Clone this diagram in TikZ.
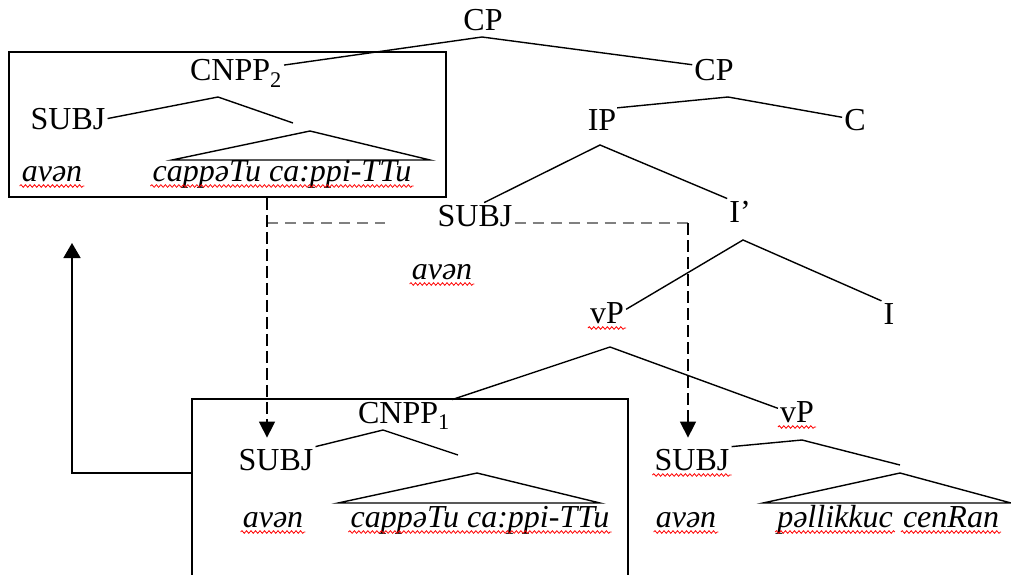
\documentclass[tikz,border=0pt]{standalone}
\usepackage{fontspec}
\setmainfont{Liberation Serif}
\usetikzlibrary{positioning,arrows.meta,calc,decorations.pathmorphing}

\newcommand{\treefont}{\fontsize{32}{38}\selectfont}

\tikzset{
  cat/.style={inner sep=2pt, anchor=base, font=\treefont},
  form/.style={cat, font=\treefont\itshape},
  branch/.style={line width=1.4pt},
  frame/.style={line width=1.6pt},
  spell/.style={red, line width=0.8pt, decorate,
    decoration={snake, amplitude=1.3pt, segment length=4.5pt}},
  move/.style={line width=1.4pt, dash pattern=on 12pt off 5pt,
    -{Triangle[length=16pt,width=16pt]}},
  link/.style={gray, line width=2.4pt, dash pattern=on 11pt off 7pt},
}

\begin{document}
\begin{tikzpicture}[x=1pt, y=-1pt]
\useasboundingbox (0,0) rectangle (1011,575);

% Main clause labels
\node[cat] (cpTop) at (483,31) {CP};
\node[cat] (cp) at (714,81) {CP};
\node[cat] (ip) at (602,131) {IP};
\node[cat] (c) at (855,130) {C};
\node[cat] (subj) at (475,226) {SUBJ};
\node[cat] (ibar) at (740,222) {I'};
\node[form] (av) at (442,279) {avən};
\node[cat] (vp) at (607,323) {vP};
\node[cat] (i) at (889,324) {I};
\node[cat] (vpLow) at (797,422) {vP};
\node[cat] (subjR) at (692,470) {SUBJ};
\node[form] (avR) at (686,527) {avən};
\node[form] (pal) at (835,527) {pəllikkuc};
\node[form] (cen) at (951,527) {cenRan};

% Upper boxed CNPP
\node[frame, draw, minimum width=437pt, minimum height=145pt, inner sep=0pt]
  (boxB) at (227.5,124.5) {};
\node[cat] (cnppB) at (236,81) {CNPP\textsubscript{2}};
\node[cat] (subjB) at (68,129) {SUBJ};
\node[form] (avB) at (52,181) {avən};
\node[form] (cappB) at (282,181) {cappəTu ca:ppi-TTu};

% Lower boxed CNPP (runs off the bottom edge)
\coordinate (boxA-sw) at (192,575);
\coordinate (boxA-nw) at (192,399);
\coordinate (boxA-ne) at (628,399);
\coordinate (boxA-se) at (628,575);
\draw[frame] (boxA-sw) -- (boxA-nw) -- (boxA-ne) -- (boxA-se);
\node[cat] (cnppA) at (404,423) {CNPP\textsubscript{1}};
\node[cat] (subjA) at (276,470) {SUBJ};
\node[form] (avA) at (273,527) {avən};
\node[form] (cappA) at (480,527) {cappəTu ca:ppi-TTu};

% Branch tops
\coordinate (cpTopA) at (482,37);
\coordinate (cpA) at (728,97);
\coordinate (ipA) at (600,145);
\coordinate (ibarA) at (743,240);
\coordinate (vpA) at (610,347);
\coordinate (cnppBA) at (218,97);
\coordinate (cnppAA) at (383,430);
\coordinate (vpLowA) at (802,440);

% Free ends of the right-hand branches
\coordinate (cnppBR) at (293,123);
\coordinate (cnppAR) at (458,455);
\coordinate (vpLowR) at (900,465);

% Draw branches
\draw[branch] (cnppB.10) -- (cpTopA) -- (cp.165);
\draw[branch] (ip.40) -- (cpA) -- (c.170);
\draw[branch] (subj.55) -- (ipA) -- (ibar.north west);
\draw[branch] (vp.10) -- (ibarA) -- (i.north west);
\draw[branch] (cnppA.north east) -- (vpA) -- (vpLow.170);
\draw[branch] (subjB.east) -- (cnppBA) -- (cnppBR);
\draw[branch] (subjA.north east) -- (cnppAA) -- (cnppAR);
\draw[branch] (subjR.north east) -- (vpLowA) -- (vpLowR);

% Draw triangles over the phrases
\draw[branch] (172,160) -- (310,131) -- (430,160) -- cycle;
\draw[branch] (338,503) -- (477,473) -- (600,503) -- cycle;
\draw[branch] (763,503) -- (900,473) -- (1011,503) -- cycle;

% Movement links
\coordinate (tL) at (267,223);
\coordinate (tR) at (688,223);
\draw[link] (tL) -- ($(tL)!0.28!(tR)$);
\draw[link] (subj.east |- tR) -- (tR);
\draw[move, shorten >=9pt] (boxB.south -| tL) -- (tL |- subjA.north);
\draw[move, shorten >=9pt] (tR) -- (tR |- subjR.north);

% Arrow back up to the upper box
\coordinate (backFrom) at (192,473);
\coordinate (backTo) at (72,243);
\draw[branch, line width=1.6pt, -{Triangle[length=15pt,width=17pt]}]
  (backFrom) -| (backTo);

% Spelling squiggles
\foreach \n in {av,avR,pal,cen,vp,vpLow,subjR,avB,cappB,avA,cappA}
  \draw[spell] ([yshift=-5pt]\n.base west) -- ([yshift=-5pt]\n.base east);

\end{tikzpicture}
\end{document}
